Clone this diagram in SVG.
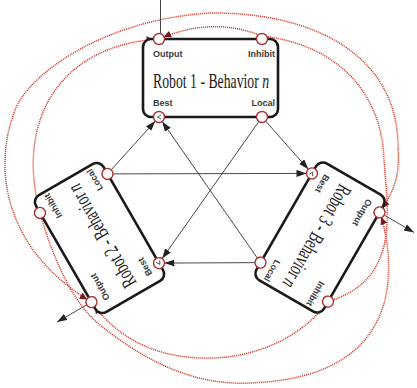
<svg xmlns="http://www.w3.org/2000/svg" width="417" height="388" viewBox="0 0 417 388">
<style>
.box{fill:#fff;stroke:#1a1a1a;stroke-width:2.6}
.port{fill:#fff;stroke:#a83232;stroke-width:1.4}
.lbl{font-family:"Liberation Sans",Arial,sans-serif;font-size:9px;font-weight:bold;fill:#3a3a3a}
.ttl{font-family:"Liberation Serif","Times New Roman",serif;font-size:21px;fill:#1a1a1a}
.lnk{stroke:#333;stroke-width:0.9;fill:none}
.inh{stroke:#d43a2a;stroke-width:1.5;stroke-dasharray:1.1 0.9;fill:none}
.chev{stroke:#333;stroke-width:0.8;fill:none}
</style>
<defs>
<marker id="ah" markerUnits="userSpaceOnUse" markerWidth="20" markerHeight="8" refX="15.5" refY="3.5" orient="auto"><path d="M0,0 L10,3.5 L0,7 z" fill="#222"/></marker>
<marker id="ao" markerUnits="userSpaceOnUse" markerWidth="10" markerHeight="8" refX="10" refY="3.5" orient="auto"><path d="M0,0 L10,3.5 L0,7 z" fill="#222"/></marker>
<marker id="rh" markerUnits="userSpaceOnUse" markerWidth="14" markerHeight="7" refX="12.5" refY="3.5" orient="auto-start-reverse"><path d="M0,0 L7.5,3.5 L0,7 z" fill="#6e1c1c"/></marker>
</defs>
<rect width="417" height="388" fill="#fff"/>
<g id="connectors">
  <line class="lnk" x1="107.5" y1="173.9" x2="159" y2="117" marker-end="url(#ah)"/>
  <line class="lnk" x1="107.5" y1="173.9" x2="312" y2="173.4" marker-end="url(#ah)"/>
  <line class="lnk" x1="262" y1="117" x2="312" y2="173.4" marker-end="url(#ah)"/>
  <line class="lnk" x1="262" y1="117" x2="159" y2="263.1" marker-end="url(#ah)"/>
  <line class="lnk" x1="260.5" y1="262.6" x2="159" y2="117" marker-end="url(#ah)"/>
  <line class="lnk" x1="260.5" y1="262.6" x2="159" y2="263.1" marker-end="url(#ah)"/>
  <line class="lnk" x1="160.5" y1="0" x2="160.5" y2="33.5"/>
  <line class="lnk" x1="86.7" y1="304.9" x2="57" y2="322" marker-end="url(#ao)"/>
  <line class="lnk" x1="384.3" y1="215.2" x2="414" y2="232.4" marker-end="url(#ao)"/>
  <path class="inh" d="M40,213 C15,120 60,45 159,39" marker-end="url(#rh)"/>
  <path class="inh" d="M328,301.6 C400,280 388,215 384,160 C382,95 340,45 262,36 Q212,16 159,39" marker-end="url(#rh)"/>
  <path class="inh" d="M379.5,212.4 C394,192 400,175 398,150 C400,60 320,12 210,13 C100,20 28,76 15,110 C-8,170 5,250 91.5,302.1" marker-start="url(#rh)" marker-end="url(#rh)"/>
  <path class="inh" d="M40,213 C55,265 75,305 100,325 C140,357 190,386 250,383 C330,380 372,350 385,300 C392,270 388,235 379.5,212.4" marker-end="url(#rh)"/>
  <path class="inh" d="M328,301.6 C300,340 250,360 200,358 C150,356 115,335 91.5,302.1" marker-end="url(#rh)"/>
</g>
<g id="robot1" transform="translate(210.5,78)">
  <rect class="box" x="-67.5" y="-39" width="135" height="78" rx="8"/>
  <circle class="port" cx="-51.5" cy="-39" r="5.5"/>
  <circle class="port" cx="51.5" cy="-39" r="5.5"/>
  <circle class="port" cx="-51.5" cy="39" r="5.5"/>
  <circle class="port" cx="51.5" cy="39" r="5.5"/>
  <polyline class="chev" points="-49.5,37 -53,39 -49.5,41"/>
  <text class="lbl" x="-57.5" y="-21">Output</text>
  <text class="lbl" x="64.5" y="-21" text-anchor="end">Inhibit</text>
  <text class="ttl" transform="translate(-57.5,10) scale(0.655,1)">Robot 1 - Behavior <tspan font-style="italic">n</tspan></text>
  <text class="lbl" x="-57.5" y="28">Best</text>
  <text class="lbl" x="64.5" y="28" text-anchor="end">Local</text>
</g>
<g id="robot2" transform="translate(99.5,238) rotate(240)">
  <rect class="box" x="-67.5" y="-39" width="135" height="78" rx="8"/>
  <circle class="port" cx="-51.5" cy="-39" r="5.5"/>
  <circle class="port" cx="51.5" cy="-39" r="5.5"/>
  <circle class="port" cx="-51.5" cy="39" r="5.5"/>
  <circle class="port" cx="51.5" cy="39" r="5.5"/>
  <polyline class="chev" points="-49.5,37 -53,39 -49.5,41"/>
  <text class="lbl" x="-57.5" y="-21">Output</text>
  <text class="lbl" x="64.5" y="-21" text-anchor="end">Inhibit</text>
  <text class="ttl" transform="translate(-57.5,10) scale(0.655,1)">Robot 2 - Behavior <tspan font-style="italic">n</tspan></text>
  <text class="lbl" x="-57.5" y="28">Best</text>
  <text class="lbl" x="64.5" y="28" text-anchor="end">Local</text>
</g>
<g id="robot3" transform="translate(320,237.5) rotate(120)">
  <rect class="box" x="-67.5" y="-39" width="135" height="78" rx="8"/>
  <circle class="port" cx="-51.5" cy="-39" r="5.5"/>
  <circle class="port" cx="51.5" cy="-39" r="5.5"/>
  <circle class="port" cx="-51.5" cy="39" r="5.5"/>
  <circle class="port" cx="51.5" cy="39" r="5.5"/>
  <polyline class="chev" points="-49.5,37 -53,39 -49.5,41"/>
  <text class="lbl" x="-57.5" y="-21">Output</text>
  <text class="lbl" x="64.5" y="-21" text-anchor="end">Inhibit</text>
  <text class="ttl" transform="translate(-57.5,10) scale(0.655,1)">Robot 3 - Behavior <tspan font-style="italic">n</tspan></text>
  <text class="lbl" x="-57.5" y="28">Best</text>
  <text class="lbl" x="64.5" y="28" text-anchor="end">Local</text>
</g>
</svg>
